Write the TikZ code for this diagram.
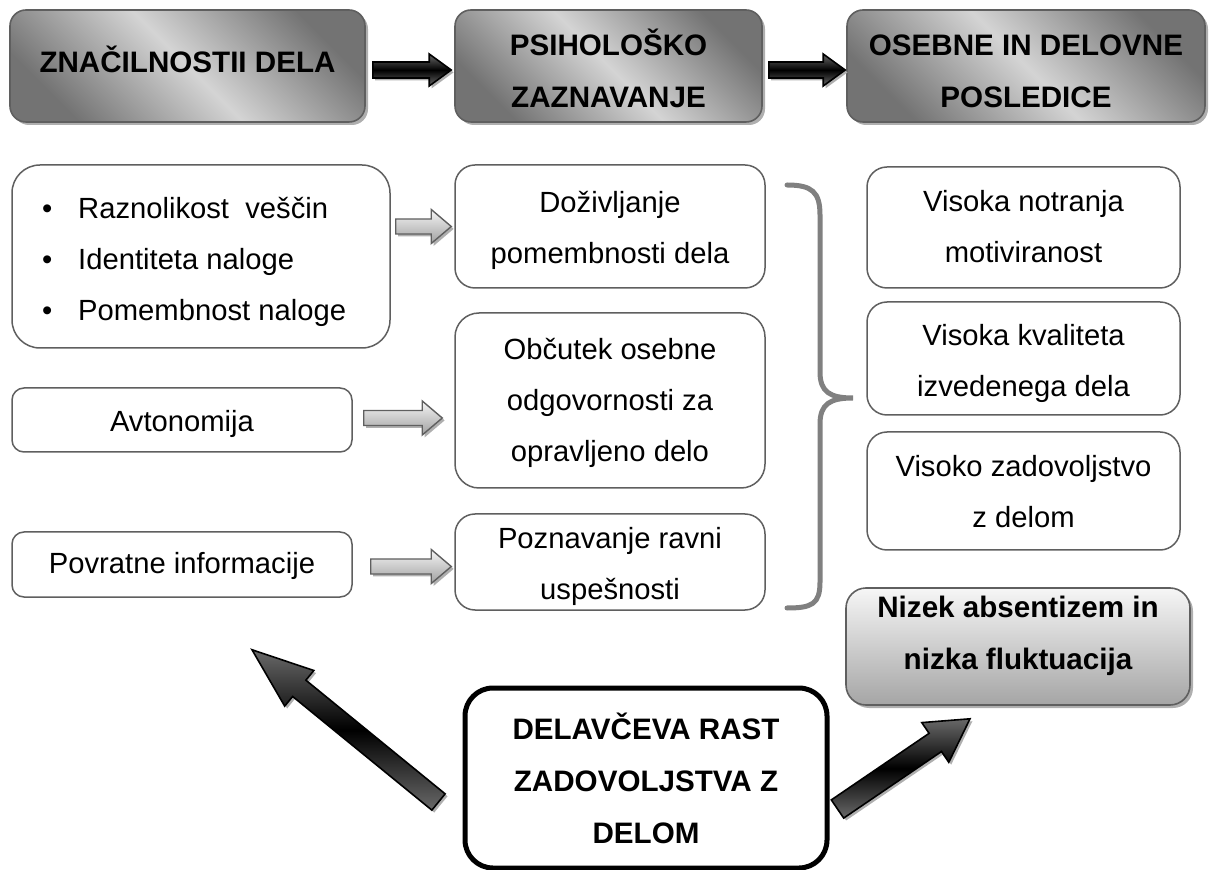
\documentclass[tikz,border=0pt]{standalone}
\usepackage{fontspec}
\setmainfont{Liberation Sans}
\usetikzlibrary{calc,shadows}
\definecolor{bordergray}{RGB}{95,95,95}
\definecolor{tbdark}{RGB}{115,115,115}
\definecolor{tblight}{RGB}{212,212,212}
\definecolor{shadowgray}{RGB}{175,175,175}
\definecolor{bracegray}{RGB}{128,128,128}
\definecolor{arrgray}{RGB}{105,105,105}
\definecolor{lightarrtop}{RGB}{245,245,245}
\definecolor{lightarrbot}{RGB}{160,160,160}
\definecolor{rfourtop}{RGB}{246,246,246}
\definecolor{rfourbot}{RGB}{165,165,165}
\newcommand{\txtfont}{\fontsize{14.6pt}{25.5pt}\selectfont}
\newcommand{\bldfont}{\fontsize{14.8pt}{26pt}\selectfont\bfseries}
% text block raised by #1, zero size, centred
\newcommand{\boxtext}[2]{\raisebox{#1}[0pt][0pt]{\begin{tabular}{@{}c@{}}#2\end{tabular}}}
% #1 style, #2 tail, #3 tip, #4 shaft half width, #5 head half width, #6 head length
\newcommand{\blockarrow}[6]{%
  \coordinate (tmpH) at ($(#3)!#6!(#2)$);
  \path[#1] ($(#2)!#4!90:(#3)$) -- ($(tmpH)!#4!90:(#3)$) -- ($(tmpH)!#5!90:(#3)$) -- (#3)
    -- ($(tmpH)!#5!-90:(#3)$) -- ($(tmpH)!#4!-90:(#3)$) -- ($(#2)!#4!-90:(#3)$) -- cycle;
}
\tikzset{
  wbox/.style={draw=bordergray, line width=0.75pt, fill=white, inner sep=0pt, font=\txtfont},
  topbox/.style={draw=bordergray, line width=0.8pt, rounded corners=8pt, inner sep=0pt,
    font=\bldfont, top color=tbdark, bottom color=tbdark, middle color=tblight, shading angle=-45,
    drop shadow={shadow xshift=1.5pt, shadow yshift=-1.5pt, fill=shadowgray, opacity=1}},
  graybox/.style={draw=bordergray, line width=0.8pt, rounded corners=10pt, inner sep=0pt,
    font=\bldfont, top color=rfourtop, bottom color=rfourbot,
    drop shadow={shadow xshift=1.5pt, shadow yshift=-1.5pt, fill=shadowgray, opacity=1}},
  boldbox/.style={draw=black, line width=2.5pt, rounded corners=14pt, fill=white, inner sep=0pt,
    font=\bldfont},
  arrshadow/.style={fill=shadowgray, transform canvas={xshift=1.2pt, yshift=-1.2pt}},
  darkarrow/.style={draw=black, line width=0.8pt, line join=miter, top color=arrgray, bottom color=arrgray, middle color=black},
  lightarrow/.style={draw=bordergray, line width=0.7pt, line join=miter, top color=lightarrtop, bottom color=lightarrbot},
}
\begin{document}
\begin{tikzpicture}[x=0.5pt, y=-0.5pt]
\useasboundingbox (0,0) rectangle (1219,870);

% top row
\node[topbox, minimum width=177.5pt, minimum height=56pt] (A) at (187.5,66) {\boxtext{-1.9pt}{ZNAČILNOSTII DELA}};
\node[topbox, minimum width=153.5pt, minimum height=56pt] (B) at (608.5,66) {\boxtext{-6.15pt}{PSIHOLOŠKO\\ZAZNAVANJE}};
\node[topbox, minimum width=179pt, minimum height=56pt] (C) at (1026,66) {\boxtext{-6.15pt}{OSEBNE IN DELOVNE\\POSLEDICE}};

% left column
\node[wbox, rounded corners=14pt, minimum width=189pt, minimum height=91.5pt] (L1) at (201,256.5)
  {\raisebox{-4.9pt}[0pt][0pt]{\begin{tabular}{@{}p{159pt}@{}}\textbullet\hspace{13pt}Raznolikost\ \ veščin\\\textbullet\hspace{13pt}Identiteta naloge\\\textbullet\hspace{13pt}Pomembnost naloge\end{tabular}}};
\node[wbox, rounded corners=6pt, minimum width=170pt, minimum height=32pt] (L2) at (182,420) {\boxtext{-4.15pt}{Avtonomija}};
\node[wbox, rounded corners=6pt, minimum width=170pt, minimum height=32.5pt] (L3) at (182,564.5) {\boxtext{-2.9pt}{Povratne informacije}};

% middle column
\node[wbox, rounded corners=10pt, minimum width=155pt, minimum height=61.5pt] (M1) at (610,226.5) {\boxtext{-4.15pt}{Doživljanje\\pomembnosti dela}};
\node[wbox, rounded corners=12pt, minimum width=155pt, minimum height=87.5pt] (M2) at (610,400.5) {\boxtext{-3.65pt}{Občutek osebne\\odgovornosti za\\opravljeno delo}};
\node[wbox, rounded corners=10pt, minimum width=155pt, minimum height=48pt] (M3) at (610,562) {\boxtext{-4.65pt}{Poznavanje ravni\\uspešnosti}};

% right column
\node[wbox, rounded corners=10pt, minimum width=156.5pt, minimum height=60.5pt] (R1) at (1023.5,227.5) {\boxtext{-3.4pt}{Visoka notranja\\motiviranost}};
\node[wbox, rounded corners=10pt, minimum width=156.5pt, minimum height=56.5pt] (R2) at (1023.5,358.5) {\boxtext{-4.9pt}{Visoka kvaliteta\\izvedenega dela}};
\node[wbox, rounded corners=10pt, minimum width=156.5pt, minimum height=59pt] (R3) at (1023.5,491) {\boxtext{-4.15pt}{Visoko zadovoljstvo\\z delom}};
\node[graybox, minimum width=172pt, minimum height=58.5pt] (R4) at (1018,646.5) {\boxtext{3.35pt}{Nizek absentizem in\\nizka fluktuacija}};

% bottom box
\node[boldbox, minimum width=181pt, minimum height=90pt] (D) at (646,778) {\boxtext{-5.15pt}{DELAVČEVA RAST\\ZADOVOLJSTVA Z\\DELOM}};

% brace
\draw[bracegray, line width=2.5pt, line cap=round]
  (787,185) .. controls (812,185) and (820,192) .. (820,215) -- (820,372)
  .. controls (820,392) and (830,398) .. (853,398)
  .. controls (830,398) and (820,404) .. (820,424) -- (820,582)
  .. controls (820,604) and (812,608) .. (787,608);

% top arrows
\coordinate (t1s) at ($(A.east)+(7,4)$);
\coordinate (t1e) at ($(B.west)+(-3,4)$);
\coordinate (t2s) at ($(B.east)+(6,4)$);
\coordinate (t2e) at ($(C.west)+(-1,4)$);
\blockarrow{arrshadow}{t1s}{t1e}{4pt}{8pt}{11pt}
\blockarrow{darkarrow}{t1s}{t1e}{4pt}{8pt}{11pt}
\blockarrow{arrshadow}{t2s}{t2e}{4pt}{8pt}{11pt}
\blockarrow{darkarrow}{t2s}{t2e}{4pt}{8pt}{11pt}

% small light arrows
\coordinate (s1s) at ($(L1.east |- M1.west)+(5,0)$);
\coordinate (s1e) at ($(M1.west)+(-3,0)$);
\coordinate (s2s) at ($(L2.east)+(11,-2)$);
\coordinate (s2e) at ($(M2.west |- L2.east)+(-12,-2)$);
\coordinate (s3s) at ($(L3.east)+(18,2)$);
\coordinate (s3e) at ($(M3.west |- L3.east)+(-3,2)$);
\foreach \a/\b in {s1s/s1e, s2s/s2e, s3s/s3e}{
  \blockarrow{arrshadow}{\a}{\b}{3.75pt}{8.5pt}{10pt}
  \blockarrow{lightarrow}{\a}{\b}{3.75pt}{8.5pt}{10pt}
}

% big arrows from bottom box
\coordinate (b1s) at ($(D.west)+(-24,24)$);
\coordinate (b1e) at ($(L3.south)+(70,52)$);
\coordinate (b2s) at ($(D.east)+(8,31)$);
\coordinate (b2e) at ($(R4.south)+(-48,13)$);
\blockarrow{arrshadow}{b1s}{b1e}{5.25pt}{11.5pt}{30.5pt}
\blockarrow{darkarrow}{b1s}{b1e}{5.25pt}{11.5pt}{30.5pt}
\blockarrow{arrshadow}{b2s}{b2e}{5.5pt}{12pt}{21pt}
\blockarrow{darkarrow}{b2s}{b2e}{5.5pt}{12pt}{21pt}
\end{tikzpicture}
\end{document}
